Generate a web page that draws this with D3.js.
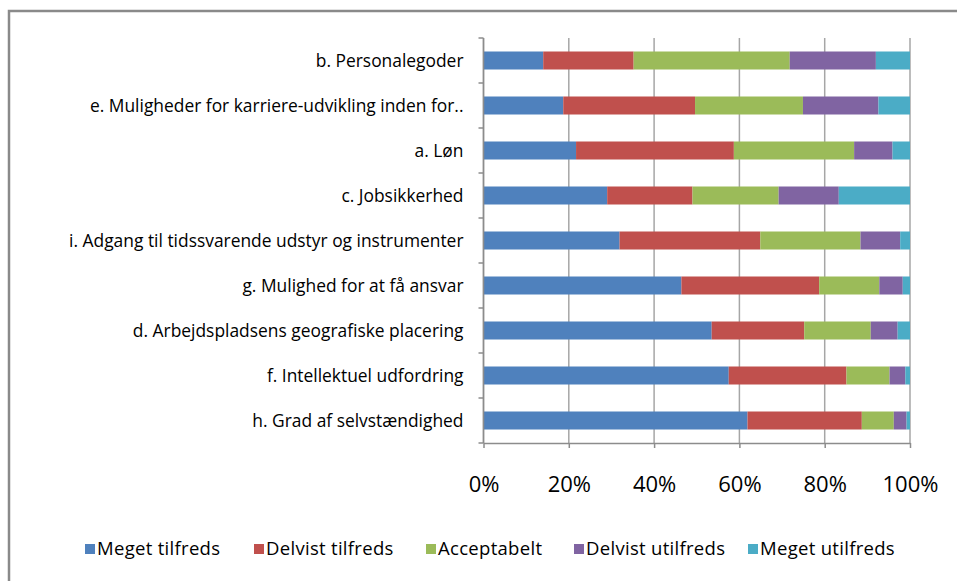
<!doctype html>
<html>
  <head>
    <meta charset="utf-8"/>
    <title>Tilfredshed</title>
    <style>
      body, html {
        margin: 0;
        padding: 0;
        background: white;
      }
      svg text {
        font-family: "Open Sans", "Noto Sans", sans-serif;
        fill: #000;
      }
    </style>
    <script src="https://d3js.org/d3.v7.min.js"></script>
  </head>
  <body>
    <svg width="957" height="581"></svg>

    <script>
      // categories, top to bottom
      var categories = [
        "b. Personalegoder",
        "e. Muligheder for karriere-udvikling inden for..",
        "a. Løn",
        "c. Jobsikkerhed",
        "i. Adgang til tidssvarende udstyr og instrumenter",
        "g. Mulighed for at få ansvar",
        "d. Arbejdspladsens geografiske placering",
        "f. Intellektuel udfordring",
        "h. Grad af selvstændighed"
      ];

      var seriesNames = ["Meget tilfreds", "Delvist tilfreds", "Acceptabelt", "Delvist utilfreds", "Meget utilfreds"];
      var seriesColors = ["#4f81bd", "#c0504d", "#9bbb59", "#8064a2", "#4bacc6"];

      // percentages per series, same order as categories
      var megetTilfreds   = [14.0, 18.7, 21.7, 29.0, 31.9, 46.4, 53.5, 57.5, 61.9];
      var delvistTilfreds = [21.2, 30.9, 37.0, 20.0, 33.0, 32.3, 21.7, 27.6, 26.8];
      var acceptabelt     = [36.6, 25.3, 28.2, 20.2, 23.5, 14.1, 15.6, 10.1,  7.5];
      var delvistUtilf    = [20.2, 17.7,  9.0, 14.1,  9.3,  5.5,  6.3,  3.7,  3.0];
      var megetUtilf      = [ 8.0,  7.4,  4.1, 16.7,  2.3,  1.7,  2.9,  1.1,  0.8];

      var xTicks = [0, 20, 40, 60, 80, 100];

      var seriesValues = [megetTilfreds, delvistTilfreds, acceptabelt, delvistUtilf, megetUtilf];

      var rows = categories.map(function(c, i) {
        var r = {cat: c};
        seriesNames.forEach(function(s, j) { r[s] = seriesValues[j][i]; });
        return r;
      });

      var stack = d3.stack().keys(seriesNames)
        .offset(d3.stackOffsetExpand);
      var layers = stack(rows);

      var svg = d3.select("svg");

      // outer frame (left + top only visible)
      svg.append("path")
        .attr("d", "M9,581 V11 H957")
        .attr("fill", "none")
        .attr("stroke", "#8a8a8a")
        .attr("stroke-width", 2.5);

      var x = d3.scaleLinear().domain([0, 1]).range([483.5, 910]);
      var y = d3.scaleBand().domain(categories).range([38, 443]).paddingInner(0.6).paddingOuter(0.3);

      // gridlines
      svg.append("g")
        .selectAll("line")
        .data(xTicks)
        .join("line")
          .attr("x1", function(d) { return x(d / 100); })
          .attr("x2", function(d) { return x(d / 100); })
          .attr("y1", 38)
          .attr("y2", 443)
          .attr("stroke", "#a6a6a6")
          .attr("stroke-width", 1.5);

      // bars
      svg.append("g")
        .selectAll("g")
        .data(layers)
        .join("g")
          .attr("fill", function(d, i) { return seriesColors[i]; })
        .selectAll("rect")
        .data(function(d) { return d; })
        .join("rect")
          .attr("x", function(d) { return x(d[0]); })
          .attr("y", function(d) { return y(d.data.cat); })
          .attr("width", function(d) { return x(d[1]) - x(d[0]); })
          .attr("height", y.bandwidth());

      // y axis
      var yAxis = svg.append("g")
        .attr("transform", "translate(483.5,0)");
      yAxis.append("line")
        .attr("y1", 38).attr("y2", 443)
        .attr("stroke", "#8c8c8c").attr("stroke-width", 1.5);
      var step = y.step();
      yAxis.selectAll("line.tick")
        .data(d3.range(categories.length + 1))
        .join("line")
          .attr("class", "tick")
          .attr("x1", -5).attr("x2", 0)
          .attr("y1", function(i) { return 38 + i * step; })
          .attr("y2", function(i) { return 38 + i * step; })
          .attr("stroke", "#8c8c8c").attr("stroke-width", 1.5);
      yAxis.selectAll("text")
        .data(categories)
        .join("text")
          .attr("x", -20)
          .attr("y", function(d) { return y(d) + y.bandwidth() / 2; })
          .attr("dy", "0.35em")
          .attr("text-anchor", "end")
          .style("font-size", "17.4px")
          .text(function(d) { return d; });

      // x axis
      var xAxis = svg.append("g")
        .attr("transform", "translate(0,443)")
        .call(d3.axisBottom(x).tickValues(xTicks.map(function(d) { return d / 100; }))
          .tickFormat(d3.format(".0%")).tickSize(5).tickSizeOuter(0).tickPadding(28));
      xAxis.select(".domain").attr("stroke", "#8c8c8c").attr("stroke-width", 1.5);
      xAxis.selectAll(".tick line").attr("stroke", "#8c8c8c").attr("stroke-width", 1.5);
      xAxis.selectAll(".tick text")
        .style("font-family", "'Open Sans', sans-serif")
        .style("font-size", "22px")
        .attr("fill", "#222");

      // legend
      var legendX = [85, 254, 426, 574, 748];
      var legend = svg.append("g")
        .selectAll("g")
        .data(seriesNames)
        .join("g")
          .attr("transform", function(d, i) { return "translate(" + legendX[i] + ",549)"; });
      legend.append("rect")
        .attr("x", 0).attr("y", -5)
        .attr("width", 10).attr("height", 10)
        .attr("fill", function(d, i) { return seriesColors[i]; });
      legend.append("text")
        .attr("x", 12)
        .attr("dy", "0.35em")
        .style("font-size", "18.5px")
        .style("letter-spacing", "0.3px")
        .text(function(d) { return d; });
    </script>
  </body>
</html>
